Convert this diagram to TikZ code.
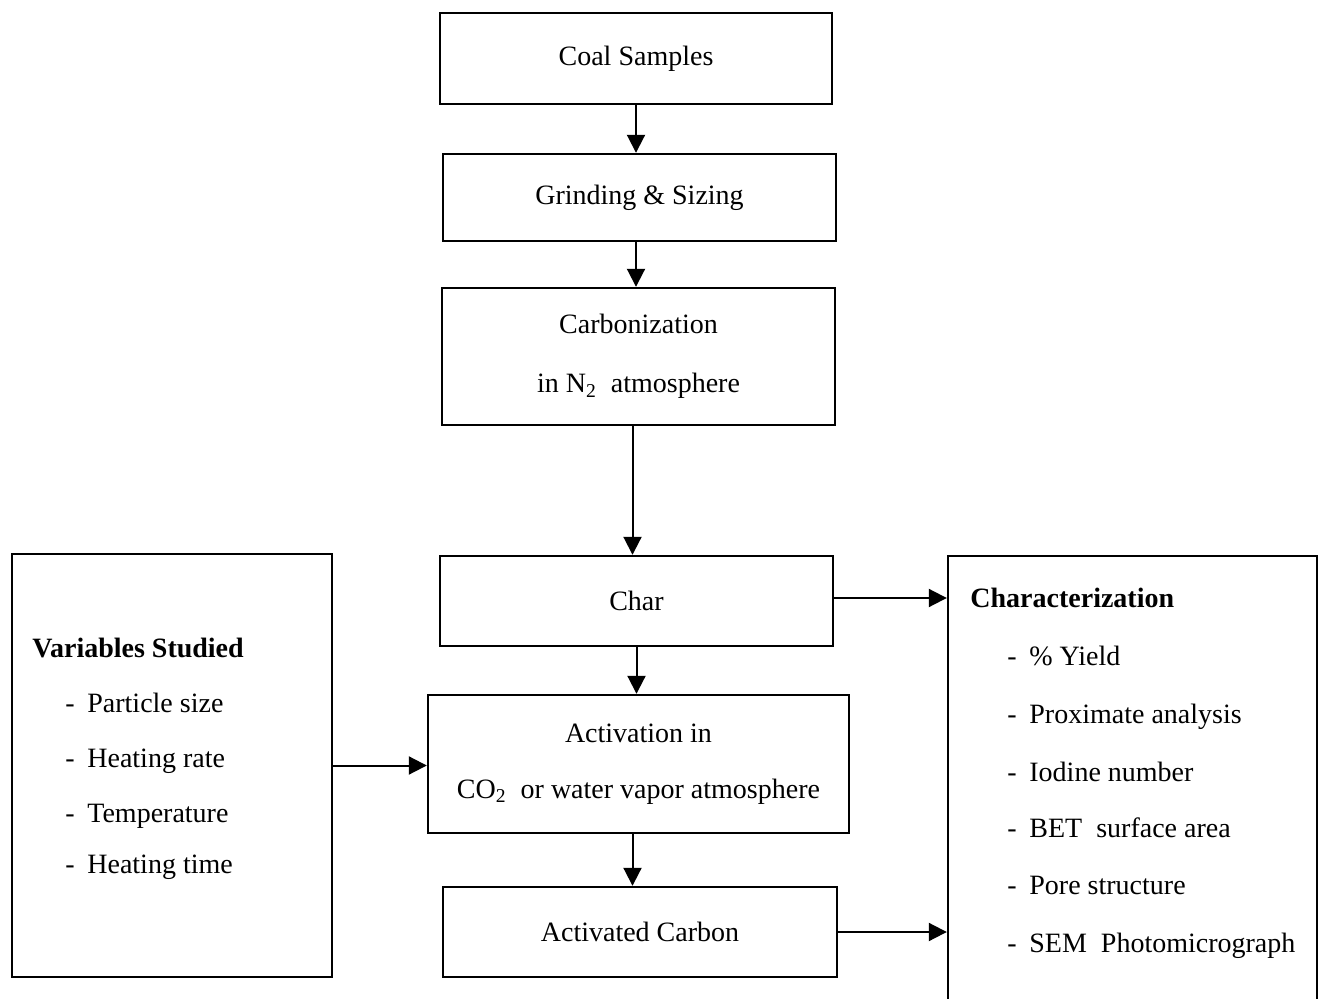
\documentclass[tikz,border=0pt]{standalone}
\usepackage{fontspec}
\setmainfont{Liberation Serif}
\usetikzlibrary{arrows.meta}

\tikzset{
    stage/.style={draw, line width=1.2pt, inner sep=0pt, align=center,
        font=\fontsize{14}{17}\selectfont},
    flow/.style={-{Triangle[length=9pt,width=9pt]}, line width=1pt},
    listline/.style={anchor=base west, inner sep=0pt,
        font=\fontsize{14}{17}\selectfont},
}
\newcommand{\dashitem}[1]{\makebox[11pt][l]{-}#1}

\begin{document}
\begin{tikzpicture}[x=0.5pt,y=-0.5pt]
    \useasboundingbox (0,0) rectangle (1322,999);
    \clip (0,0) rectangle (1322,999);

    % main chain
    \node[stage, minimum width=196pt, minimum height=45.5pt] (coal) at (636,58.5) {Coal Samples};
    \node[stage, minimum width=196.5pt, minimum height=43.5pt] (grind) at (639.5,197.5) {Grinding \& Sizing};
    \node[stage, minimum width=196.5pt, minimum height=68.5pt,
        font=\fontsize{14}{29.5}\selectfont] (carb) at (638.5,356.5)
        {Carbonization\\in N\textsubscript{2}\ \ atmosphere};
    \node[stage, minimum width=196.5pt, minimum height=45pt] (char) at (636.5,601) {Char};
    \node[stage, minimum width=210.5pt, minimum height=69pt,
        font=\fontsize{14}{28}\selectfont] (act) at (638.5,764)
        {Activation in\\CO\textsubscript{2}\ \ or water vapor atmosphere};
    \node[stage, minimum width=197pt, minimum height=45pt] (acc) at (640,932) {Activated Carbon};

    % side boxes
    \node[stage, minimum width=160pt, minimum height=211.5pt] (var) at (172,765.5) {};
    \node[stage, minimum width=184.5pt, minimum height=252pt] (chr) at (1132.5,808) {};

    \node[listline, font=\fontsize{14}{17}\selectfont\bfseries] (vhead) at (32,657) {Variables Studied};
    \foreach \i/\y/\t in {1/712/Particle size, 2/767/Heating rate,
                          3/822/Temperature, 4/873/Heating time}
        \node[listline] (v\i) at (65,\y) {\dashitem{\t}};

    \node[listline, font=\fontsize{14}{17}\selectfont\bfseries] (chead) at (970,608) {Characterization};
    \foreach \i/\y/\t in {1/665/\% Yield, 2/723/Proximate analysis,
                          3/781/Iodine number, 4/837/BET\ \ surface area,
                          5/894/Pore structure, 6/952/SEM\ \ Photomicrograph}
        \node[listline] (c\i) at (1007,\y) {\dashitem{\t}};

    % connectors
    \draw[flow] (coal.south) -- (coal.south |- grind.north);
    \draw[flow] (grind.south -| coal.south) -- (coal.south |- carb.north);
    \draw[flow] ([xshift=-3pt]carb.south) -- ([xshift=-3pt]carb.south |- char.north);
    \draw[flow] (char.south) -- (char.south |- act.north);
    \draw[flow] ([xshift=-3pt]act.south) -- ([xshift=-3pt]act.south |- acc.north);
    \draw[flow] (var.east) -- (var.east -| act.west);
    \draw[flow] ([yshift=1.5pt]char.east) -- ([yshift=1.5pt]char.east -| chr.west);
    \draw[flow] (acc.east) -- (acc.east -| chr.west);

\end{tikzpicture}
\end{document}
